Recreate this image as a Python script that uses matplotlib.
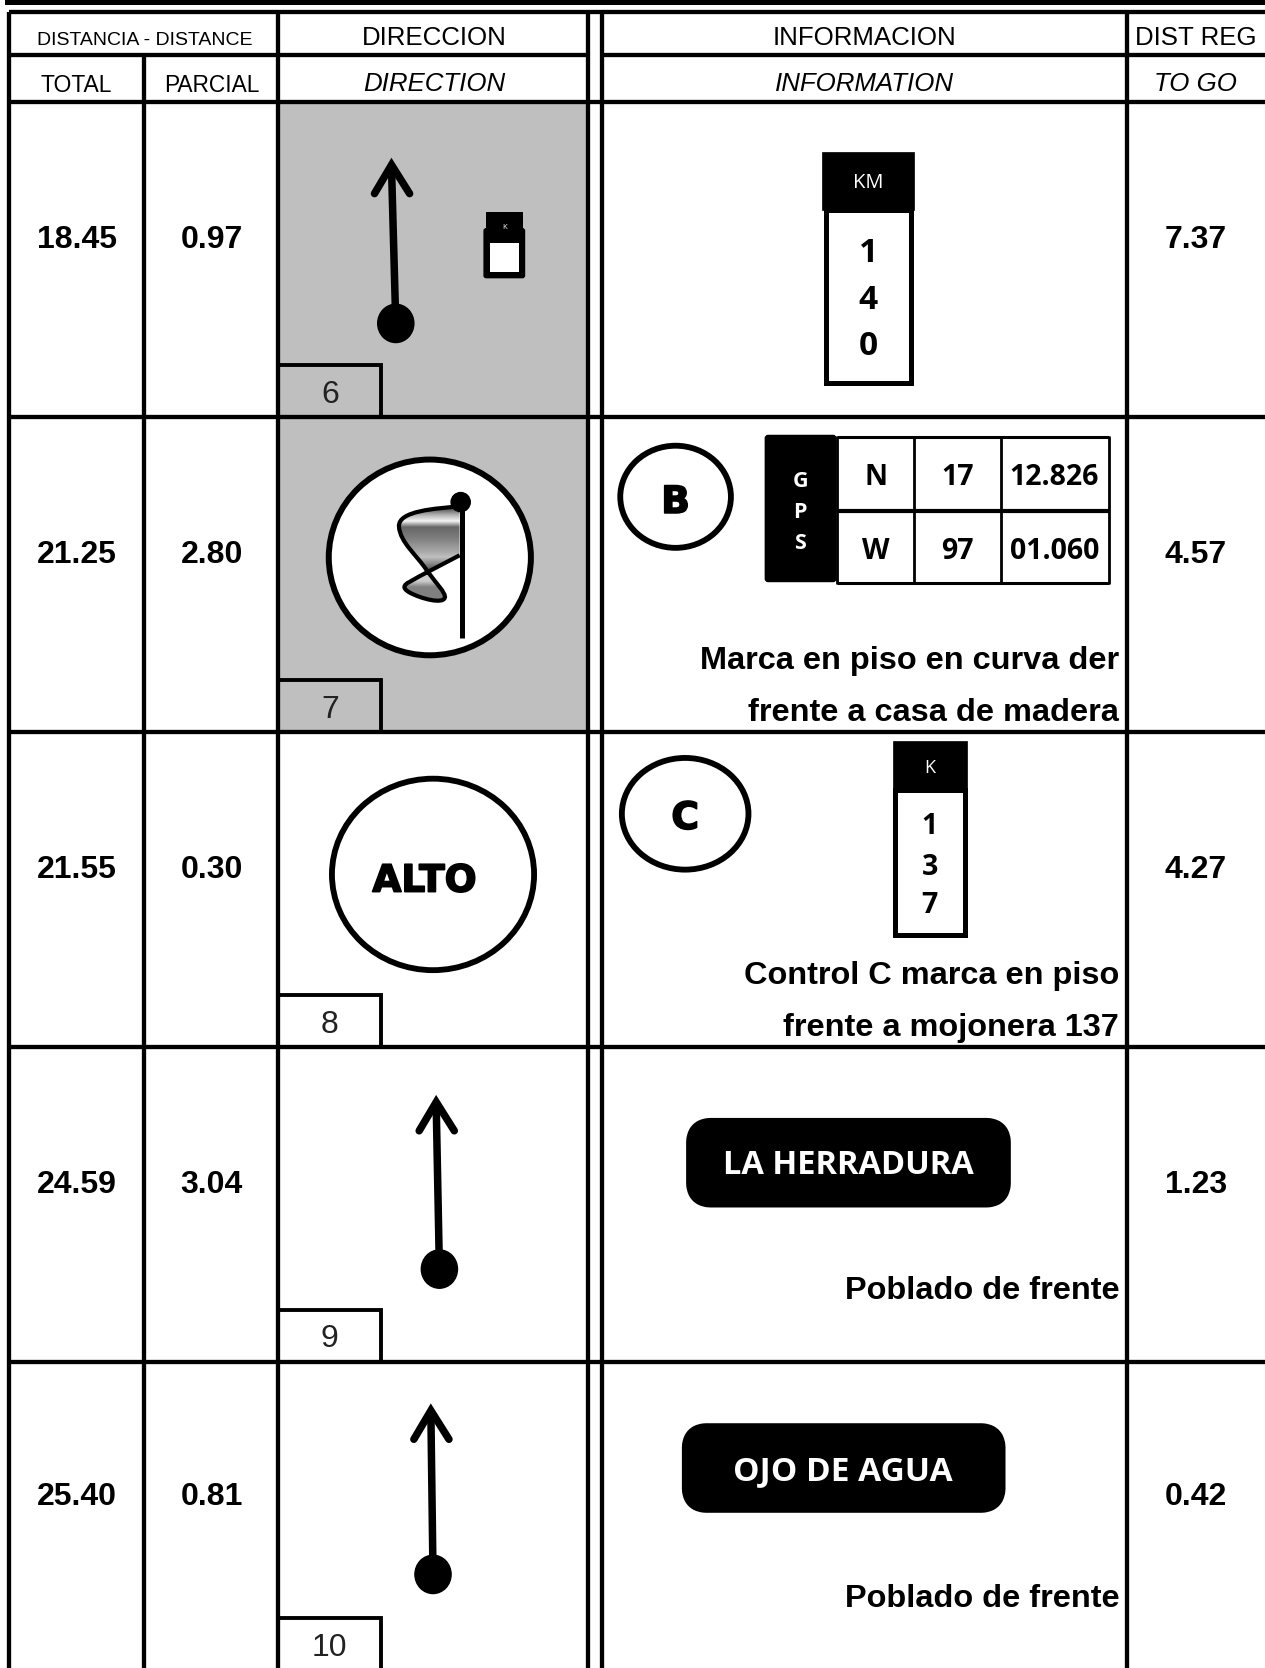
import numpy as np
import matplotlib
matplotlib.use("Agg")
import matplotlib.pyplot as plt
import matplotlib.patheffects as pe
from matplotlib.patches import Ellipse, FancyBboxPatch, PathPatch, Rectangle
from matplotlib.path import Path

plt.rcParams["font.family"] = ["Liberation Sans", "DejaVu Sans"]

TOTAL = ["18.45", "21.25", "21.55", "24.59", "25.40"]
PARCIAL = ["0.97", "2.80", "0.30", "3.04", "0.81"]
TO_GO = ["7.37", "4.57", "4.27", "1.23", "0.42"]
CASE_NO = ["6", "7", "8", "9", "10"]
GPS_ROWS = [["N", "17", "12.826"], ["W", "97", "01.060"]]

# layout in the coordinates of the shrunk reference (1189 wide)
ROW_LINES = [96, 392, 688, 984, 1280]
BOX_TOP = [343, 639, 935, 1231, 1521]
BOX_TEXT_Y = [368, 664, 960, 1255, 1546]
NUM_Y = [222, 518, 815, 1111, 1404]
COL_X = [72, 199, 1124]
LW = 3.1

fig = plt.figure(figsize=(12.65, 16.68), dpi=100)
ax = fig.add_axes([0, 0, 1, 1])
ax.set_xlim(0, 1189)
ax.set_ylim(1568, 0)
ax.axis("off")


def hline(y, x0=8, x1=1189, lw=LW):
    ax.plot([x0, x1], [y, y], color="black", lw=lw, solid_capstyle="butt", zorder=5)


def vline(x, y0, y1, lw=LW):
    ax.plot([x, x], [y0, y1], color="black", lw=lw, solid_capstyle="butt", zorder=5)


def label(x, y, s, size, ha="center", **kw):
    return ax.text(x, y, s, fontsize=size, ha=ha, va="center_baseline", zorder=8, **kw)


def heavy(x, y, s, size=27):
    # stand-in for the very black display face of the reference
    t = label(x, y, s, size, family="DejaVu Sans", fontweight="bold")
    t.set_path_effects([pe.withStroke(linewidth=1.2, foreground="black")])


def arrow(x0, y0, x1, y1):
    # straight arrow with a round dot at the start
    ax.plot([x0, x1], [y0, y1 + 12], color="black", lw=5.4, solid_capstyle="butt", zorder=6)
    ax.plot([x1 - 16, x1, x1 + 17], [y1 + 36, y1 + 9, y1 + 36], color="black", lw=5.4,
            solid_capstyle="round", solid_joinstyle="miter", zorder=6)
    ax.add_patch(Ellipse((x0, y0), 34, 36, color="black", zorder=6))


def km_post(x0, x1, ytop, yhead, ybot, head_pad, lw, text, text_size, digits, digit_y, digit_size):
    xc = (x0 + x1) / 2
    ax.add_patch(Rectangle((x0, ytop), x1 - x0, yhead - ytop, fc="black", ec="black", lw=0.5, zorder=6))
    ax.add_patch(Rectangle((x0 + head_pad, yhead), x1 - x0 - 2 * head_pad, ybot - yhead,
                           fc="white", ec="black", lw=lw, zorder=5.5))
    label(xc, (ytop + yhead) / 2, text, text_size, color="white", family="Open Sans")
    for d, y in zip(digits, digit_y):
        label(xc, y, d, digit_size, family="Open Sans", fontweight="bold")


# grey direction cells
ax.add_patch(Rectangle((261, 96), 292, 592, fc="#BFBFBF", ec="none", zorder=1))

# top rule and table grid
ax.add_patch(Rectangle((5, 0), 1184, 5, fc="black", ec="none", zorder=5))
hline(11)
hline(52, 8, 553)
hline(52, 566, 1189)
for y in ROW_LINES:
    hline(y)
vline(8, 11, 1568)
vline(135, 52, 1568)
vline(261, 11, 1568)
vline(553, 11, 1568)
vline(566, 11, 1568)
vline(1059, 11, 1568)

# headers
label(136, 36, "DISTANCIA - DISTANCE", 14)
label(72, 78, "TOTAL", 16.5)
label(199, 78, "PARCIAL", 16.4)
label(408, 33.5, "DIRECCION", 18.6)
label(408, 77, "DIRECTION", 18.6, style="italic")
label(813, 33.5, "INFORMACION", 18.6)
label(813, 77, "INFORMATION", 18.6, style="italic")
label(1124, 33.5, "DIST REG", 18.6)
label(1124, 77, "TO GO", 18.6, style="italic")

# distance columns and case numbers
for i in range(5):
    label(COL_X[0], NUM_Y[i], TOTAL[i], 23, fontweight="bold")
    label(COL_X[1], NUM_Y[i], PARCIAL[i], 23, fontweight="bold")
    label(COL_X[2], NUM_Y[i], TO_GO[i], 23, fontweight="bold")
    bottom = ROW_LINES[i + 1] if i < 4 else 1568
    ax.plot([261, 358, 358], [BOX_TOP[i], BOX_TOP[i], bottom], color="black", lw=LW * 0.9,
            solid_joinstyle="miter", solid_capstyle="butt", zorder=5)
    label(310, BOX_TEXT_Y[i], CASE_NO[i], 23, color="#222222")

# row 1
arrow(372, 304, 368, 146)
ax.add_patch(FancyBboxPatch((455, 215), 38, 46, boxstyle="round,pad=0,rounding_size=2",
                            fc="black", ec="black", lw=1, zorder=5.5))
ax.add_patch(Rectangle((457, 199), 35, 20, fc="black", ec="none", zorder=5.6))
ax.add_patch(Rectangle((461, 228), 27, 28, fc="white", ec="none", zorder=6))
label(474, 213, "K", 5.5, color="white", family="Open Sans")
km_post(773, 859, 143, 197, 360, 3, 3.6, "KM", 14.5, ["1", "4", "0"], [235, 279, 322], 24)

# row 2: flag in a circle
ax.add_patch(Ellipse((404, 524), 190, 184, fc="white", ec="black", lw=4.3, zorder=5))
flag_pts = [(432, 476), (410, 478), (374, 480), (375, 495),
            (376, 510), (392, 522), (401, 536),
            (408, 546), (420, 558), (418, 562),
            (416, 568), (396, 563), (385, 557),
            (378, 553), (379, 550), (385, 547),
            (395, 541), (415, 531), (432, 522)]
flag_codes = [Path.MOVETO] + [Path.CURVE4] * 18
flag_path = Path(flag_pts, flag_codes)
flag_grey = np.array([0.35, 0.7, 0.95, 0.4, 0.45, 0.5, 0.58, 0.65, 0.75, 0.55, 0.35, 0.8,
                      0.8, 0.5, 0.5, 0.5])[:, None]
img = ax.imshow(flag_grey, cmap="gray", vmin=0, vmax=1, extent=(370, 440, 566, 476), aspect="auto",
                interpolation="bilinear", zorder=5.5)
img.set_clip_path(PathPatch(flag_path, transform=ax.transData))
ax.set_xlim(0, 1189)
ax.set_ylim(1568, 0)
ax.add_patch(PathPatch(flag_path, fc="none", ec="black", lw=3, zorder=6))
vline(434, 475, 600, lw=3.6)
ax.add_patch(Ellipse((433, 472), 18, 18, color="black", zorder=7))

ax.add_patch(Ellipse((635, 467), 104, 96, fc="none", ec="black", lw=4.2, zorder=5))
heavy(635, 469, "B")
ax.add_patch(FancyBboxPatch((720, 410), 65, 136, boxstyle="round,pad=0,rounding_size=2",
                            fc="black", ec="black", lw=2, zorder=5))
for s, y in zip("GPS", [450, 479, 509]):
    label(752, y, s, 15.5, color="white", family="Open Sans", fontweight="bold")
for y, w in zip([411, 480, 548], [2.2, 3, 2.2]):
    hline(y, 787, 1042, lw=w)
for x in [787, 859, 941, 1042]:
    vline(x, 410, 549, lw=2.0)
for row, y in zip(GPS_ROWS, [446, 515]):
    for s, x in zip(row, [823, 900, 991]):
        label(x, y, s, 20.5, family="Open Sans", fontweight="bold")
label(1052, 618, "Marca en piso en curva der", 23.4, ha="right", fontweight="bold")
label(1052, 667, "frente a casa de madera", 23.4, ha="right", fontweight="bold")

# row 3
ax.add_patch(Ellipse((407, 822), 190, 180, fc="none", ec="black", lw=4.2, zorder=5))
heavy(399, 825, "ALTO")
ax.add_patch(Ellipse((644, 765), 119, 105, fc="none", ec="black", lw=4.2, zorder=5))
heavy(644, 766, "C")
km_post(839, 909, 697, 743, 879, 2, 3.6, "K", 13, ["1", "3", "7"], [774, 812, 848], 20.5)
label(1052, 914, "Control C marca en piso", 23.4, ha="right", fontweight="bold")
label(1052, 963, "frente a mojonera 137", 23.4, ha="right", fontweight="bold")

# rows 4 and 5
arrow(413, 1193, 410, 1027)
ax.add_patch(FancyBboxPatch((656, 1062), 283, 62, boxstyle="round,pad=0,rounding_size=12",
                            mutation_aspect=1, fc="black", ec="black", lw=17, zorder=5, joinstyle="round"))
label(797, 1092, "LA HERRADURA", 23.5, color="white", family="Open Sans", fontweight="bold")
label(1052, 1210, "Poblado de frente", 23.4, ha="right", fontweight="bold")

arrow(407, 1480, 405, 1317)
ax.add_patch(FancyBboxPatch((652, 1349), 282, 62, boxstyle="round,pad=0,rounding_size=12",
                            mutation_aspect=1, fc="black", ec="black", lw=17, zorder=5, joinstyle="round"))
label(792, 1380, "OJO DE AGUA", 24, color="white", family="Open Sans", fontweight="bold")
label(1052, 1500, "Poblado de frente", 23.4, ha="right", fontweight="bold")

fig.savefig("out.png", dpi=100, facecolor="white")
